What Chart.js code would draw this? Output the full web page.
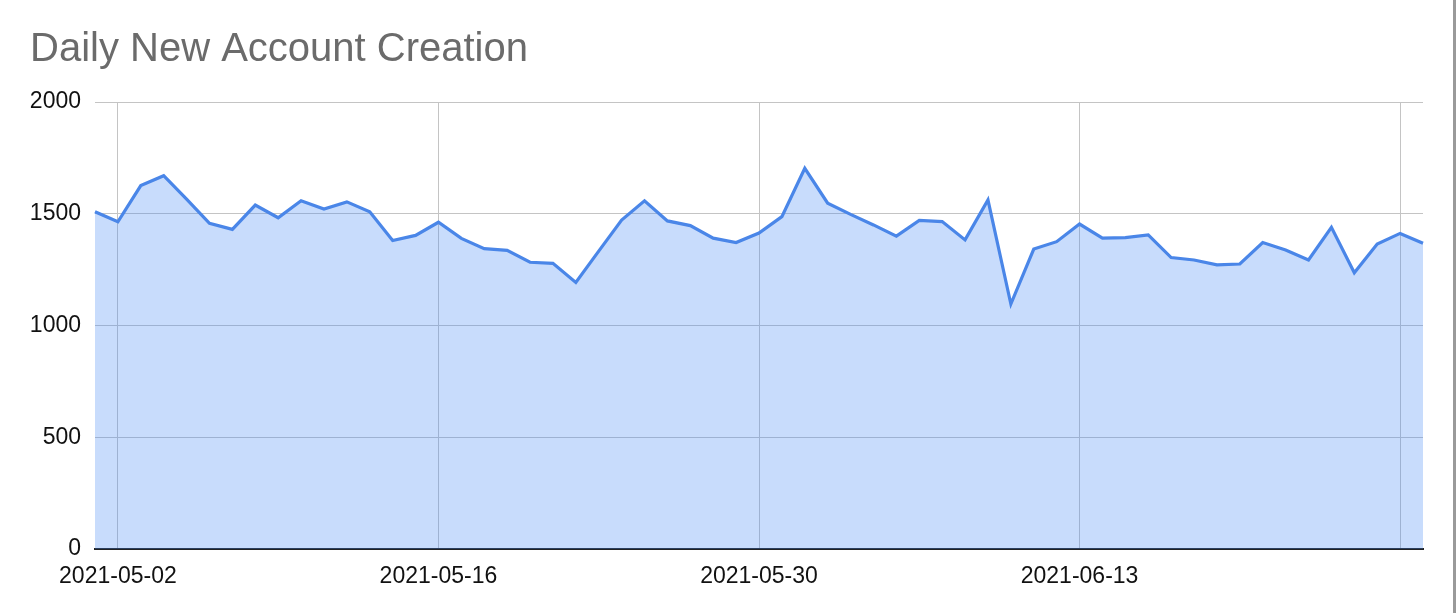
<!DOCTYPE html>
<html>
<head>
<meta charset="utf-8">
<script src="https://cdn.jsdelivr.net/npm/chart.js@4/dist/chart.umd.min.js"></script>
<style>
  html, body { margin: 0; padding: 0; background: #fff; }
  #wrap { position: relative; width: 1456px; height: 613px; }
  #wrap:after { content: ''; position: absolute; right: 0; top: 0; width: 3px; height: 613px; background: #9a9a9a; }
</style>
</head>
<body>
<div id="wrap"><canvas id="accountsChart" width="1456" height="613"></canvas></div>
<script>
const dates = [
  '2021-05-01','2021-05-02','2021-05-03','2021-05-04','2021-05-05','2021-05-06','2021-05-07',
  '2021-05-08','2021-05-09','2021-05-10','2021-05-11','2021-05-12','2021-05-13','2021-05-14',
  '2021-05-15','2021-05-16','2021-05-17','2021-05-18','2021-05-19','2021-05-20','2021-05-21',
  '2021-05-22','2021-05-23','2021-05-24','2021-05-25','2021-05-26','2021-05-27','2021-05-28',
  '2021-05-29','2021-05-30','2021-05-31','2021-06-01','2021-06-02','2021-06-03','2021-06-04',
  '2021-06-05','2021-06-06','2021-06-07','2021-06-08','2021-06-09','2021-06-10','2021-06-11',
  '2021-06-12','2021-06-13','2021-06-14','2021-06-15','2021-06-16','2021-06-17','2021-06-18',
  '2021-06-19','2021-06-20','2021-06-21','2021-06-22','2021-06-23','2021-06-24','2021-06-25',
  '2021-06-26','2021-06-27','2021-06-28'
];

const newAccounts = [
  1509, 1464, 1626, 1670, 1565, 1457, 1430, 1539, 1482, 1558, 1521, 1553, 1509, 1380,
  1403, 1462, 1390, 1344, 1336, 1283, 1278, 1193, 1333, 1472, 1558, 1468, 1447, 1391,
  1371, 1414, 1487, 1703, 1547, 1497, 1450, 1400, 1470, 1465, 1383, 1562, 1096, 1342,
  1375, 1454, 1391, 1393, 1405, 1304, 1293, 1271, 1275, 1371, 1338, 1293, 1439, 1236,
  1365, 1412, 1368
];

// dates with a vertical grid line, and which of them get a label
const gridDates = ['2021-05-02', '2021-05-16', '2021-05-30', '2021-06-13', '2021-06-27'];
const labelDates = ['2021-05-02', '2021-05-16', '2021-05-30', '2021-06-13'];

const yTicks = [0, 500, 1000, 1500, 2000];

const ctx = document.getElementById('accountsChart');

new Chart(ctx.getContext('2d'), {
    type: 'line',
    data: {
        labels: dates,
        datasets: [{
            data: newAccounts,
            borderColor: '#4a86e8',
            backgroundColor: 'rgba(66, 133, 244, 0.29)',
            borderWidth: 3.2,
            fill: 'origin',
            pointRadius: 0,
            tension: 0
        }]
    },
    options: {
        responsive: false,
        animation: false,
        layout: { padding: { left: 30, right: 33, top: 0, bottom: 0 } },
        plugins: {
            legend: { display: false },
            tooltip: { enabled: false },
            title: {
                display: true,
                text: 'Daily New Account Creation',
                align: 'start',
                color: '#6b6b6b',
                font: { family: 'Liberation Sans, Arial, sans-serif', size: 40, weight: 'normal' },
                padding: { top: 26, bottom: 28 }
            }
        },
        scales: {
            x: {
                offset: false,
                afterFit: s => { s.height = 64; },
                border: { display: true, color: '#222', width: 2 },
                grid: {
                    drawTicks: false,
                    color: c => gridDates.includes(dates[c.index]) ? '#c4c4c4' : 'rgba(0,0,0,0)'
                },
                ticks: {
                    autoSkip: false,
                    maxRotation: 0,
                    padding: 14,
                    color: '#111',
                    font: { family: 'Liberation Sans, Arial, sans-serif', size: 23 },
                    callback: (v, i) => labelDates.includes(dates[i]) ? dates[i] : ''
                }
            },
            y: {
                min: 0,
                max: 2000,
                afterFit: s => { s.width = 65; },
                afterBuildTicks: s => { s.ticks = yTicks.map(v => ({ value: v })); },
                border: { display: false },
                grid: {
                    drawTicks: false,
                    color: c => c.tick && c.tick.value === 0 ? 'rgba(0,0,0,0)' : '#c4c4c4'
                },
                ticks: {
                    padding: 14,
                    color: '#111',
                    font: { family: 'Liberation Sans, Arial, sans-serif', size: 23 },
                    callback: v => String(v)
                }
            }
        }
    }
});
</script>
</body>
</html>
